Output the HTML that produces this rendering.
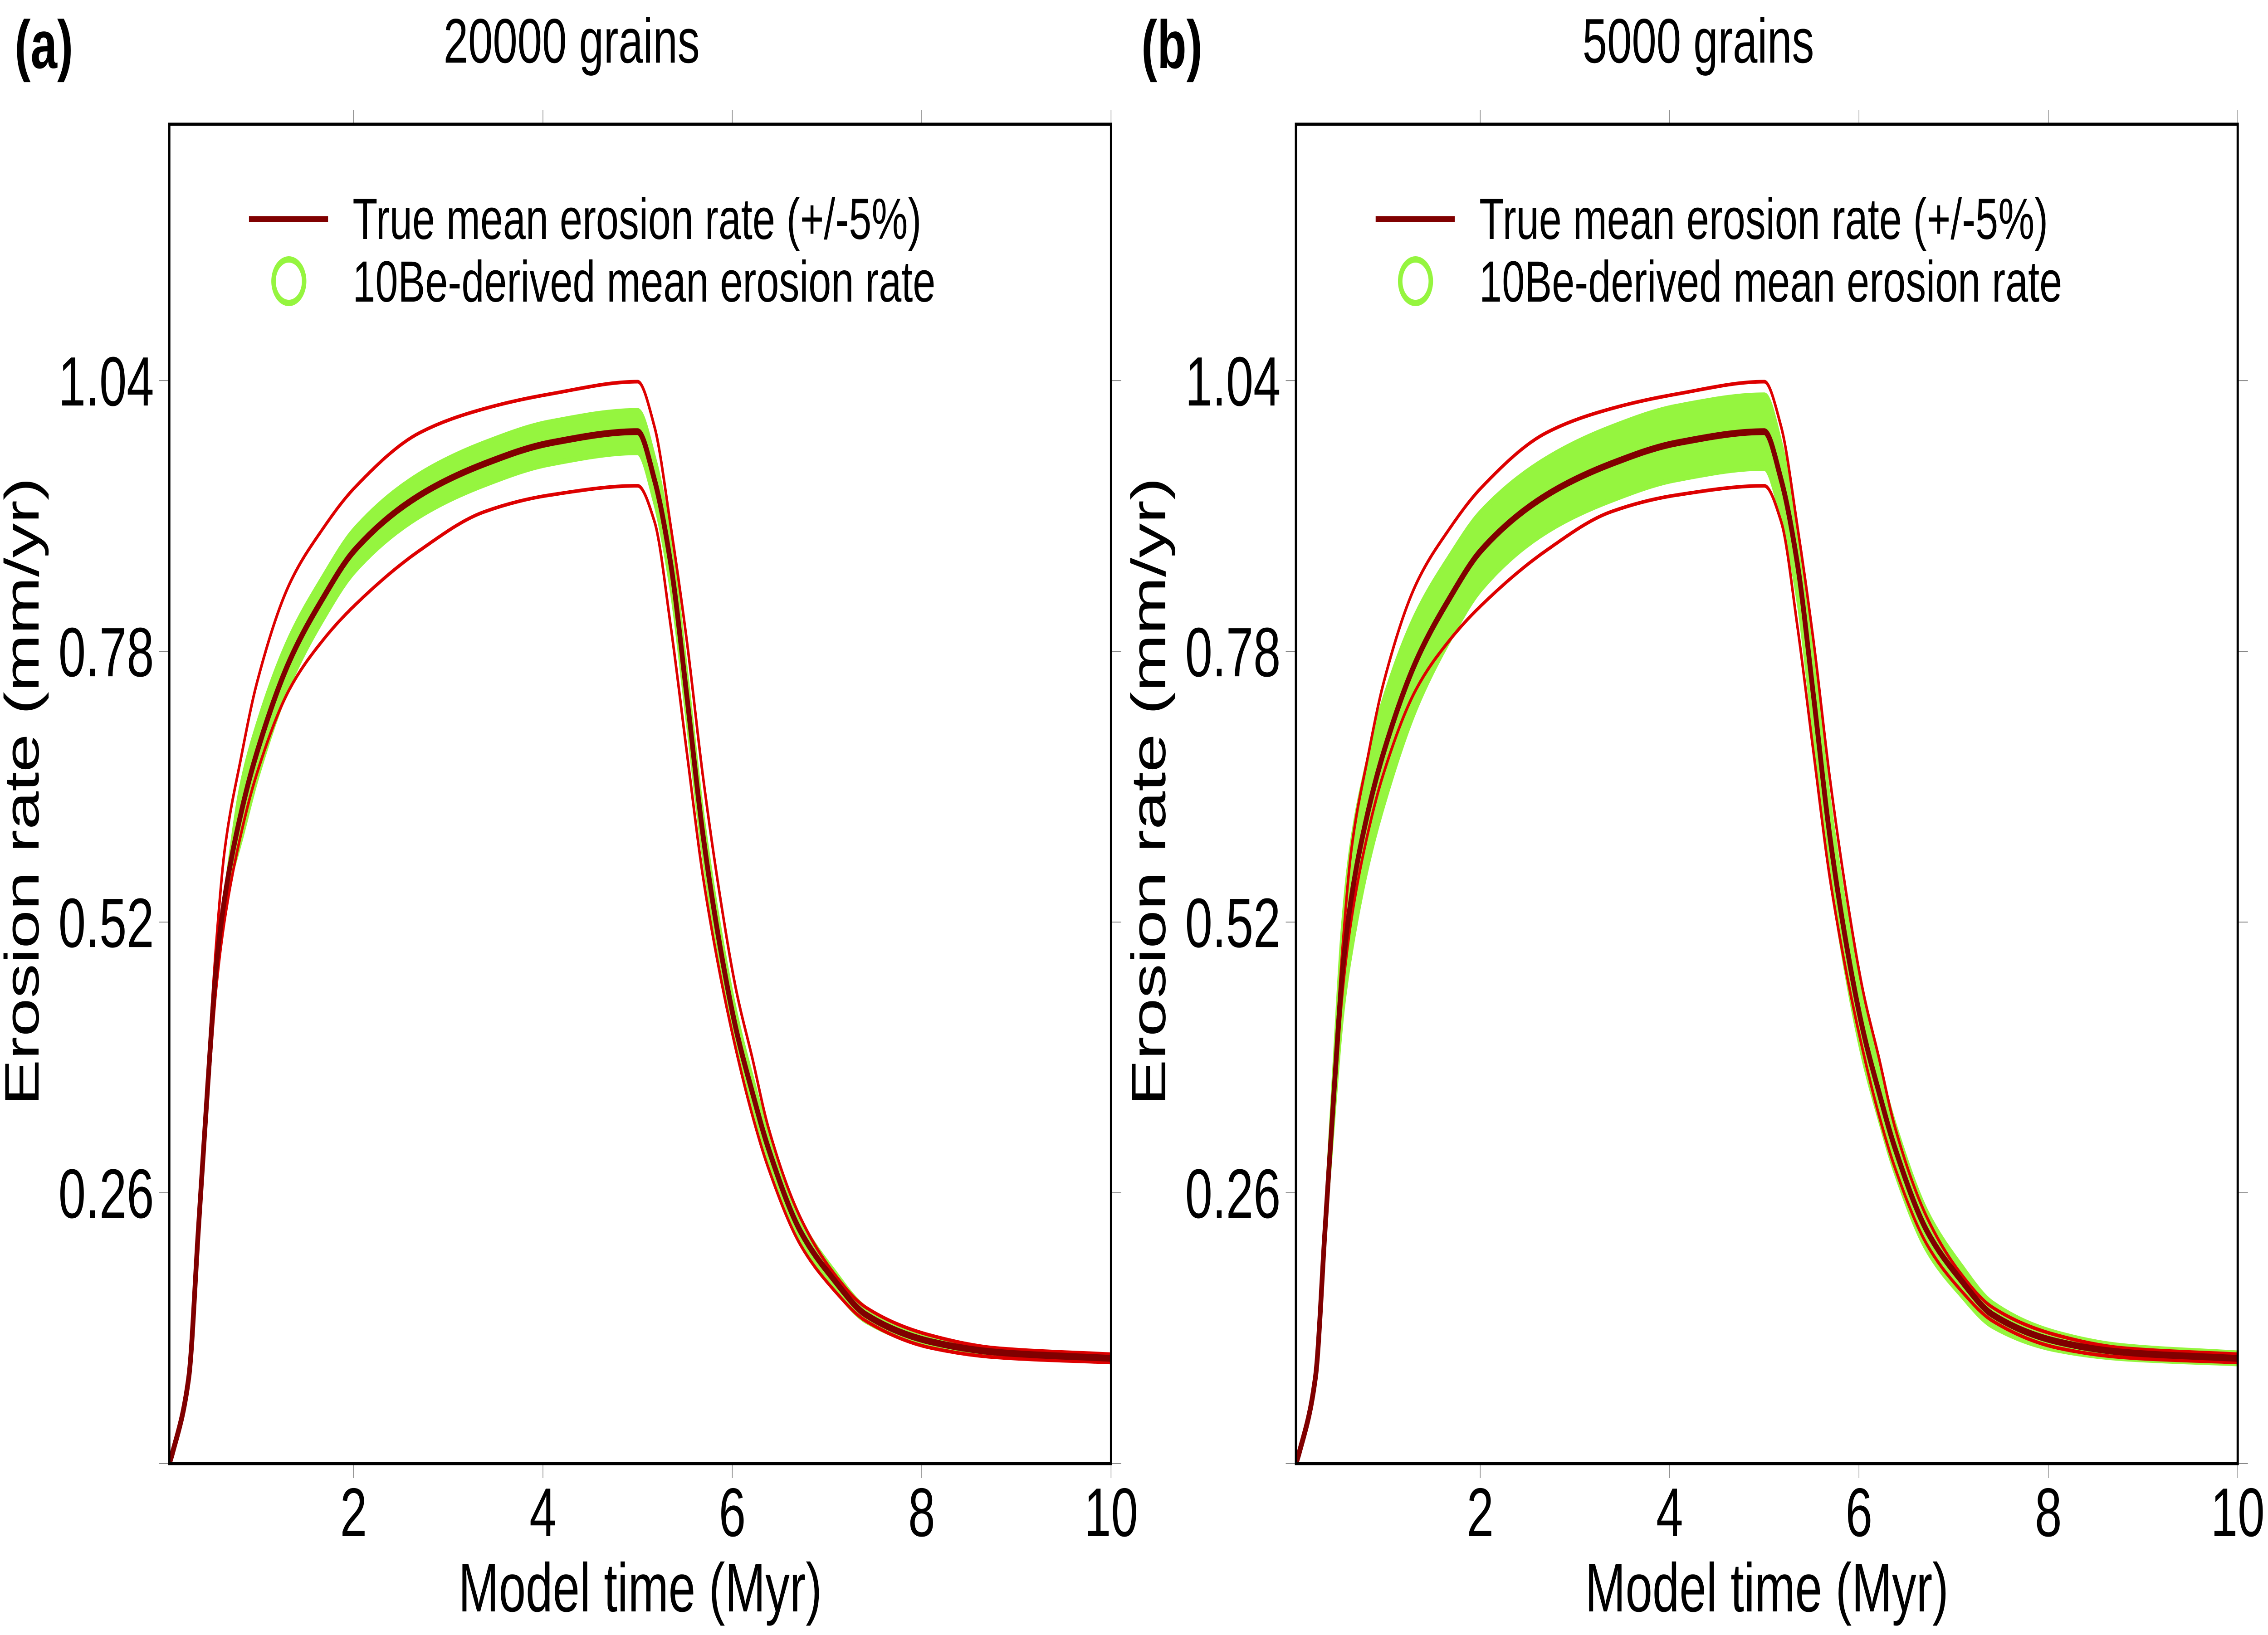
<!DOCTYPE html>
<html><head><meta charset="utf-8"><style>
html,body{margin:0;padding:0;background:#fff;width:100%;height:100%;overflow:hidden;}
svg{display:block;width:100vw;height:100vh;font-family:"Liberation Sans",Arial,sans-serif;}
</style></head><body>
<svg id="chart" viewBox="0 0 7114 3605" preserveAspectRatio="none" xmlns="http://www.w3.org/2000/svg">
<rect width="7114" height="3605" fill="#fff"/>
</svg>
<script>
// ---- data ----
const timeMyr = [0.054,0.09,0.26,0.36,0.46,0.55,0.64,0.81,0.98,1.32,1.67,2.01,2.70,3.38,4.07,5.0,5.18,5.35,5.52,5.69,5.87,6.04,6.21,6.38,6.72,7.07,7.41,8.10,8.78,10.0];
const meanRate = [0,0.011,0.083,0.223,0.363,0.477,0.544,0.624,0.683,0.770,0.830,0.877,0.930,0.960,0.980,0.991,0.944,0.864,0.737,0.604,0.497,0.417,0.357,0.303,0.223,0.177,0.143,0.117,0.107,0.101];
const upperRate = [0,0.011,0.083,0.223,0.375,0.500,0.590,0.677,0.750,0.844,0.897,0.937,0.990,1.013,1.027,1.039,0.995,0.900,0.790,0.660,0.545,0.455,0.390,0.323,0.236,0.183,0.150,0.123,0.111,0.105];
const lowerRate = [0,0.011,0.083,0.223,0.350,0.457,0.523,0.604,0.663,0.743,0.790,0.824,0.877,0.914,0.930,0.939,0.904,0.804,0.683,0.564,0.470,0.397,0.335,0.284,0.210,0.167,0.137,0.111,0.102,0.097];
const spreadA = [0,0,0,0,0,0,0,0.025,0.025,0.022,0.02,0.02,0.02,0.02,0.02,0.02,0.02,0.02,0.018,0.016,0.015,0.014,0.013,0.012,0.01,0.008,0.006,0.004,0.003,0.003];
const spreadB = [0,0,0,0,0.02,0.04,0.05,0.05,0.05,0.045,0.04,0.037,0.035,0.035,0.035,0.035,0.033,0.03,0.03,0.03,0.028,0.026,0.024,0.022,0.018,0.014,0.011,0.008,0.006,0.005];
const xTicks = [2,4,6,8,10];
const xTickLabels = ["2","4","6","8","10"];
const yTicks = [0,0.26,0.52,0.78,1.04];
const yTickLabels = ["","0.26","0.52","0.78","1.04"];
const panelTitles = ["20000 grains","5000 grains"];
const panelLetters = ["(a)","(b)"];

const NS="http://www.w3.org/2000/svg";
const svg=document.getElementById('chart');
function mk(tag,attrs,parent){const e=document.createElementNS(NS,tag);for(const k in attrs)e.setAttribute(k,attrs[k]);(parent||svg).appendChild(e);return e;}

function monoPath(pts,noMove){
  const n=pts.length;
  if(n<2)return "";
  const dx=[],dy=[],m=[];
  for(let i=0;i<n-1;i++){dx.push(pts[i+1][0]-pts[i][0]);dy.push(pts[i+1][1]-pts[i][1]);m.push(dy[i]/dx[i]);}
  const t=[m[0]];
  for(let i=1;i<n-1;i++){ if(m[i-1]*m[i]<=0)t.push(0); else {const w1=2*dx[i]+dx[i-1],w2=dx[i]+2*dx[i-1];t.push((w1+w2)/(w1/m[i-1]+w2/m[i]));} }
  t.push(m[n-2]);
  let d=(noMove?" L":"M")+pts[0][0].toFixed(1)+","+pts[0][1].toFixed(1);
  for(let i=0;i<n-1;i++){
    const h=dx[i];
    d+=" C"+(pts[i][0]+h/3).toFixed(1)+","+(pts[i][1]+t[i]*h/3).toFixed(1)+" "+(pts[i+1][0]-h/3).toFixed(1)+","+(pts[i+1][1]-t[i+1]*h/3).toFixed(1)+" "+pts[i+1][0].toFixed(1)+","+pts[i+1][1].toFixed(1);
  }
  return d;
}
function monoPathRev(pts){
  const flipped=pts.slice().reverse().map(p=>[-p[0],p[1]]);
  return monoPath(flipped,true).replace(/(-?\d+\.?\d*),(-?\d+\.?\d*)/g,(s,a,b)=>(-parseFloat(a)).toFixed(1)+","+b);
}

function drawPanel(idx,left,spread){
  const L=left,R=left+2954,T=274,B=3227;
  const xs=t=>L-16+t*297;
  const ys=v=>B-v*2296;
  const g=mk('g',{});
  
  
  const clip=mk('clipPath',{id:'clip'+idx},g);
  mk('rect',{x:L,y:T,width:R-L,height:B-T},clip);

  const lt=mk('text',{x:L-485,y:150,'font-size':150,'font-weight':'bold'},g);
  lt.textContent=panelLetters[idx];
  
  
  const tt=mk('text',{x:(L+R)/2-215,y:138,'font-size':139,'text-anchor':'middle'},g);
  tt.textContent=panelTitles[idx];
  
  

  xTicks.forEach((t,i)=>{
    const x=xs(t);
    const tk=mk('line',{x1:x,y1:B,x2:x,y2:B+32,stroke:'#888','stroke-width':2},g);
    
    
    const tk2=mk('line',{x1:x,y1:T,x2:x,y2:T-32,stroke:'#888','stroke-width':2},g);
    
    
    const lb=mk('text',{x:x,y:3387,'font-size':152,'text-anchor':'middle'},g);
    lb.textContent=xTickLabels[i];
    
    
  });
  yTicks.forEach((v,i)=>{
    const y=ys(v);
    const tk=mk('line',{x1:L-32,y1:y,x2:L,y2:y,stroke:'#888','stroke-width':2},g);
    
    
    const tk2=mk('line',{x1:R,y1:y,x2:R+32,y2:y,stroke:'#888','stroke-width':2},g);
    
    
    if(yTickLabels[i]){
      const lb=mk('text',{x:L-48,y:y+55,'font-size':154,'text-anchor':'end'},g);
      lb.textContent=yTickLabels[i];
      
      
    }
  });

  const xt=mk('text',{x:(L+R)/2,y:3553,'font-size':152,'text-anchor':'middle'},g);
  xt.textContent='Model time (Myr)';
  
  
  const yx=L-410,yy=1745;
  const yt=mk('text',{x:yx,y:yy,'font-size':152,'text-anchor':'middle',transform:'rotate(-90 '+yx+' '+yy+')'},g);
  yt.textContent='Erosion rate (mm/yr)';
  
  

  const pg=mk('g',{'clip-path':'url(#clip'+idx+')'},g);
  const hi=[],lo=[];
  timeMyr.forEach((t,i)=>{ if(spread[i]>0||(i+1<spread.length&&spread[i+1]>0)){hi.push([xs(t),ys(meanRate[i]+spread[i])]);lo.push([xs(t),ys(meanRate[i]-spread[i])]);} });
  const d=monoPath(hi)+monoPathRev(lo)+" Z";
  const sc=mk('path',{d:d,fill:'#95f53f',stroke:'#95f53f','stroke-width':12,'stroke-linejoin':'round'},pg);
  
  

  const mkLine=(arr,col,w,name)=>{
    const p=mk('path',{d:monoPath(timeMyr.map((t,i)=>[xs(t),ys(arr[i])])),fill:'none',stroke:col,'stroke-width':w,'stroke-linejoin':'round'},pg);
    
    
  };
  mkLine(upperRate,'#dd0000',8,'upper-5pct-line');
  mkLine(lowerRate,'#dd0000',8,'lower-5pct-line');
  mkLine(meanRate,'#800000',15,'true-mean-line');

  const lg=mk('g',{},g);
  
  
  mk('line',{x1:L+250,y1:483,x2:L+498,y2:483,stroke:'#800000','stroke-width':13},lg);
  const l1=mk('text',{x:L+575,y:527,'font-size':128},lg);
  l1.textContent='True mean erosion rate (+/-5%)';
  
  
  mk('circle',{cx:L+375,cy:620,r:48,fill:'none',stroke:'#95f53f','stroke-width':14},lg);
  const l2=mk('text',{x:L+575,y:665,'font-size':128},lg);
  l2.textContent='10Be-derived mean erosion rate';
  
  

  const fr=mk('rect',{x:L,y:T,width:R-L,height:B-T,fill:'none',stroke:'#000','stroke-width':7},g);
  
  
}
drawPanel(0,531,spreadA);
drawPanel(1,4065,spreadB);
</script>
</body></html>
